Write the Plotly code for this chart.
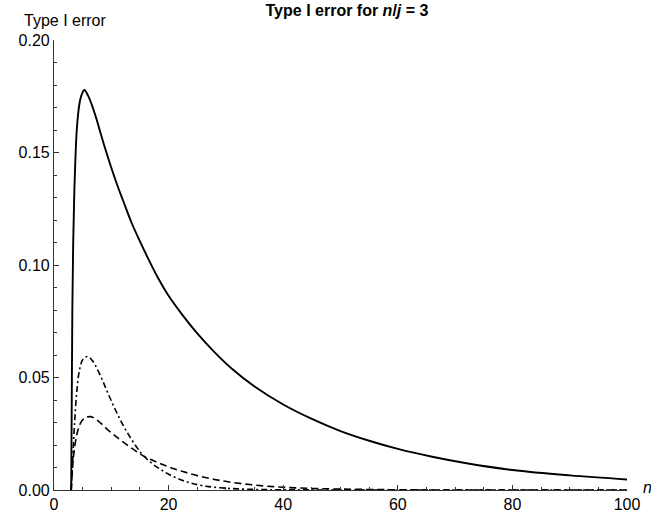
import plotly.graph_objects as go

# Solid curve
n_solid = [3, 3.1, 3.2, 3.35, 3.55, 3.75, 4, 4.4, 4.8, 5.3, 5.9, 6.6, 7.4, 8.2, 9, 10, 11, 12, 13.5, 15,
           16.5, 18, 20, 22.5, 25, 28, 31, 35, 40, 45, 50, 55, 60, 66, 72, 80, 90, 100]
v_solid = [0, 0.04, 0.08, 0.11, 0.133, 0.148, 0.161, 0.171, 0.1755, 0.1778, 0.1755, 0.1712, 0.1650,
           0.1580, 0.1512, 0.1432, 0.1358, 0.1290, 0.1190, 0.1105, 0.1025, 0.0950, 0.0863, 0.0775,
           0.0696, 0.0613, 0.0540, 0.0460, 0.0380, 0.0316, 0.0262, 0.0219, 0.0183, 0.0148, 0.0119,
           0.0089, 0.0065, 0.0047]

# Dash-dot curve
n_dashdot = [3, 3.3, 3.6, 4, 4.5, 5.1, 5.9, 6.7, 7.5, 8.5, 9.5, 10.5, 11.5, 12.5, 13.5, 14.5, 15.5, 17,
             18.5, 20, 22, 24, 26.5, 29, 32, 36, 40, 50, 100]
v_dashdot = [0, 0.015, 0.03, 0.0444, 0.054, 0.0583, 0.0593, 0.0575, 0.0540, 0.0485, 0.0425, 0.0368,
             0.0315, 0.0268, 0.0226, 0.0188, 0.0155, 0.0120, 0.0093, 0.0070, 0.0047, 0.0030, 0.0017,
             0.0010, 0.0005, 0.0002, 0.0001, 0, 0]

# Long-dash curve
n_dash = [3, 3.3, 3.7, 4.2, 4.8, 5.5, 6.4, 7.3, 8.2, 9.2, 10.2, 11.2, 12.5, 14, 15.5, 17, 18.6, 20.5,
          22.5, 25, 28, 31, 35, 40, 45, 50, 60, 70, 100]
v_dash = [0, 0.012, 0.0207, 0.0268, 0.0305, 0.0322, 0.0326, 0.0315, 0.0296, 0.0272, 0.0250, 0.0230,
          0.0205, 0.0178, 0.0153, 0.0134, 0.0117, 0.0098, 0.0082, 0.0064, 0.0047, 0.0034, 0.0022, 0.0012,
          0.0007, 0.0004, 0.0001, 0, 0]

x_ticks = [0, 20, 40, 60, 80, 100]
y_ticks = [0.00, 0.05, 0.10, 0.15, 0.20]

FONT = "Liberation Sans, Arial, sans-serif"

fig = go.Figure()
fig.add_trace(go.Scatter(x=n_dash, y=v_dash, mode="lines", hoverinfo="skip",
                         line=dict(color="black", width=1.6, dash="7px,4px", shape="spline", smoothing=1.0)))
fig.add_trace(go.Scatter(x=n_dashdot, y=v_dashdot, mode="lines", hoverinfo="skip",
                         line=dict(color="black", width=1.6, dash="6px,3px,2px,3px", shape="spline", smoothing=1.0)))
fig.add_trace(go.Scatter(x=n_solid, y=v_solid, mode="lines", hoverinfo="skip",
                         line=dict(color="black", width=1.9, shape="spline", smoothing=1.0)))

fig.update_layout(
    width=651, height=514,
    margin=dict(l=54, r=24, t=40, b=24, autoexpand=False),
    plot_bgcolor="white", paper_bgcolor="white",
    showlegend=False,
    font=dict(family=FONT, size=16, color="black"),
    title=dict(text="<b>Type I error for <i>n</i>/<i>j</i> = 3</b>", x=0.533, xanchor="center",
               y=0.99, yanchor="top", font=dict(family=FONT, size=16, color="black"),
               automargin=False),
    xaxis=dict(range=[0, 100], tickvals=x_ticks, ticktext=[str(t) for t in x_ticks],
               showline=True, linecolor="#333", linewidth=1.2, showgrid=False, zeroline=False,
               ticks="inside", ticklen=5, tickcolor="#333", tickwidth=1, automargin=False,
               minor=dict(dtick=5, ticks="inside", ticklen=3, tickcolor="#333", tickwidth=1),
               tickfont=dict(size=16), fixedrange=True),
    yaxis=dict(range=[0, 0.2], tickvals=y_ticks, ticktext=["%.2f" % t for t in y_ticks],
               showline=True, linecolor="#333", linewidth=1.2, showgrid=False, zeroline=False,
               ticks="inside", ticklen=5, tickcolor="#333", tickwidth=1, automargin=False,
               minor=dict(dtick=0.01, ticks="inside", ticklen=3, tickcolor="#333", tickwidth=1),
               tickfont=dict(size=16), fixedrange=True),
)

fig.add_annotation(text="Type I error", xref="paper", yref="paper", x=-0.056, y=1.0,
                   xanchor="left", yanchor="middle", yshift=20, showarrow=False,
                   font=dict(family=FONT, size=16, color="black"))
fig.add_annotation(text="<i>n</i>", xref="paper", yref="paper", x=1.0, y=0.0,
                   xanchor="left", yanchor="middle", xshift=14, yshift=3, showarrow=False,
                   font=dict(family=FONT, size=16, color="black"))

fig.write_html("out.html", config={"displayModeBar": False},
               post_script="document.body.style.margin='0';document.body.style.overflow='hidden';")
